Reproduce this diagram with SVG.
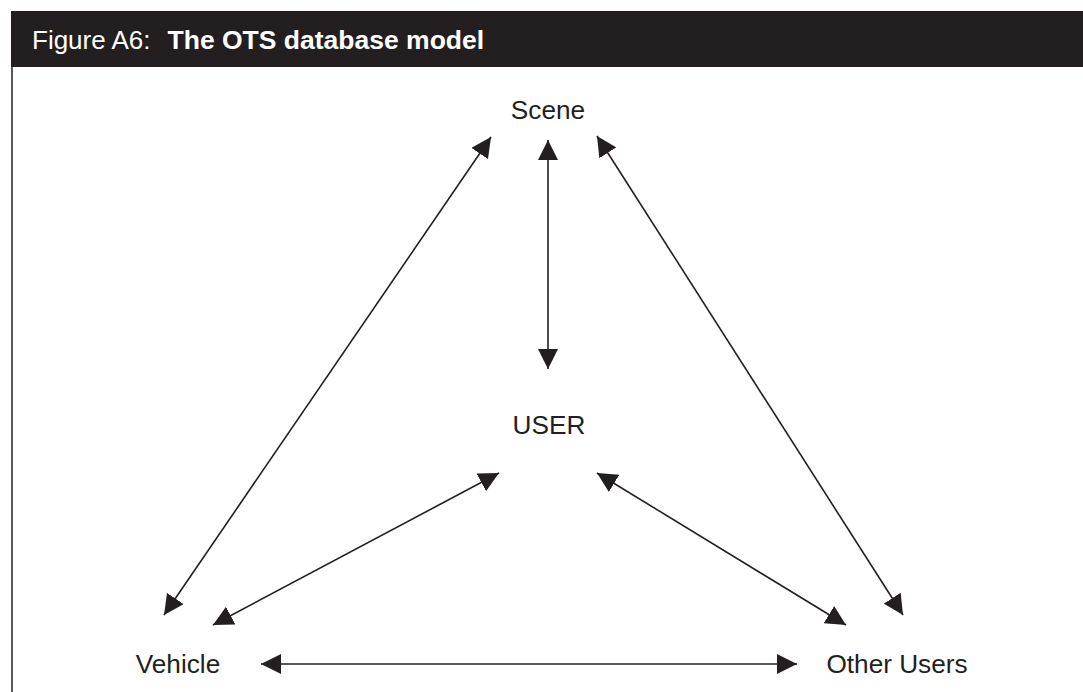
<svg xmlns="http://www.w3.org/2000/svg" width="1083" height="692" viewBox="0 0 1083 692">
<style>
.lbl{font-family:"Liberation Sans",Arial,sans-serif;font-size:26.2px;fill:#231f20;text-anchor:middle}
.ttl{font-family:"Liberation Sans",Arial,sans-serif;font-size:26px;fill:#ffffff}
.con{stroke:#231f20;stroke-width:1.6;fill:none;marker-start:url(#ah);marker-end:url(#ah)}
</style>
<defs>
<marker id="ah" viewBox="0 0 20 20" refX="20" refY="10" markerWidth="20" markerHeight="20" markerUnits="userSpaceOnUse" orient="auto-start-reverse">
<path d="M0,0 L20,10 L0,20 Z" fill="#231f20"/>
</marker>
</defs>
<rect x="0" y="0" width="1083" height="692" fill="#ffffff"/>
<g id="header">
<rect x="11" y="11" width="1072" height="56" fill="#231f20"/>
<line x1="12" y1="67" x2="12" y2="692" stroke="#231f20" stroke-width="1.5"/>
<text class="ttl" x="32" y="49">Figure A6:<tspan font-weight="bold" font-size="26.5px" dx="17">The OTS database model</tspan></text>
</g>
<g id="connectors">
<line class="con" x1="491" y1="137" x2="164" y2="615"/>
<line class="con" x1="548" y1="140" x2="548" y2="369"/>
<line class="con" x1="597" y1="136" x2="903" y2="615"/>
<line class="con" x1="499" y1="473" x2="213" y2="625"/>
<line class="con" x1="597" y1="473" x2="846" y2="625"/>
<line class="con" x1="261" y1="664" x2="797" y2="664"/>
</g>
<g id="scene"><text class="lbl" x="548" y="119">Scene</text></g>
<g id="user"><text class="lbl" x="549" y="434">USER</text></g>
<g id="vehicle"><text class="lbl" x="178" y="673">Vehicle</text></g>
<g id="other-users"><text class="lbl" x="897" y="673">Other Users</text></g>
</svg>
